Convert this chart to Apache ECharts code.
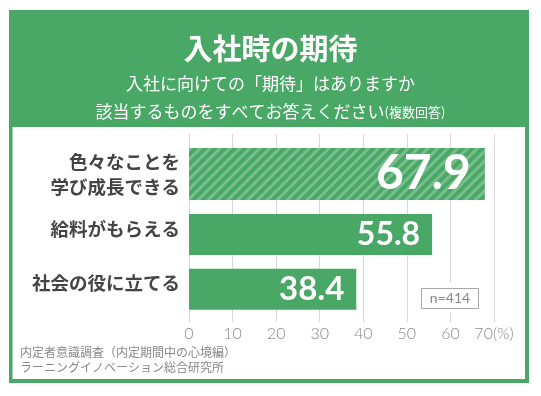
<!DOCTYPE html>
<html>
<head>
<meta charset="utf-8">
<script src="https://cdn.jsdelivr.net/npm/echarts@6/dist/echarts.min.js"></script>
<style>
html,body{margin:0;padding:0;background:#fff;}
#chart{width:541px;height:396px;}
</style>
</head>
<body>
<div id="chart"></div>
<script>
// ---- data ----
const categories = ['色々なことを\n学び成長できる', '給料がもらえる', '社会の役に立てる'];
const values = [67.9, 55.8, 38.4];
const xTickMax = 70;
const xTickStep = 10;
const titleText = '入社時の期待';
const subtitleLine1 = '入社に向けての「期待」はありますか';
const subtitleLine2 = '該当するものをすべてお答えください';
const subtitleNote = '(複数回答)';
const sampleNote = 'n=414';
const sourceLines = ['内定者意識調査（内定期間中の心境編）', 'ラーニングイノベーション総合研究所'];

// ---- styles ----
const GREEN = '#49a866';
const CJK = '"Noto Sans CJK JP", "Noto Sans", sans-serif';
const NUM = 'Lato, "Noto Sans", sans-serif';

const chart = echarts.init(document.getElementById('chart'), null, {renderer: 'canvas'});

const dataA = values.map((v, i) => i === 0 ? v : '-');
const dataB = values.map((v, i) => i === 0 ? '-' : {value: v, label: i === 2 ? {fontSize: 33} : {}});

const option = {
  backgroundColor: '#ffffff',
  animation: false,
  title: [
    {
      text: titleText, left: 'center', top: 27,
      textStyle: {color: '#fff', fontSize: 29, fontWeight: 'bold', fontFamily: CJK, lineHeight: 34}
    },
    {
      text: subtitleLine1 + '\n{m|' + subtitleLine2 + '}{s|' + subtitleNote + '}',
      left: 'center', top: 65,
      textStyle: {
        color: '#fff', fontSize: 17, fontFamily: CJK, lineHeight: 28, fontWeight: 'normal',
        rich: {
          m: {color: '#fff', fontSize: 17, fontFamily: CJK, lineHeight: 28},
          s: {color: '#fff', fontSize: 13, fontFamily: CJK, lineHeight: 28}
        }
      }
    }
  ],
  graphic: [
    {type: 'rect', z: -20, shape: {x: 9, y: 10, width: 520, height: 373}, style: {fill: GREEN}},
    {type: 'rect', z: -19, shape: {x: 12.5, y: 127, width: 512.5, height: 252}, style: {fill: '#fff'}},
    {type: 'rect', z: 50, shape: {x: 418, y: 282, width: 64, height: 31}, style: {fill: '#fff'}},
    {type: 'rect', z: 51, shape: {x: 421.5, y: 288.5, width: 57, height: 20}, style: {fill: '#fff', stroke: '#a8a8a8', lineWidth: 1}},
    {type: 'text', z: 52, x: 450, y: 298.5, style: {text: sampleNote, fill: '#888', fontSize: 14, fontFamily: NUM, align: 'center', verticalAlign: 'middle'}},
    {type: 'text', z: 52, x: 20, y: 352, style: {text: sourceLines[0], fill: '#888', fontSize: 12, fontFamily: CJK, align: 'left', verticalAlign: 'middle'}},
    {type: 'text', z: 52, x: 20, y: 367, style: {text: sourceLines[1], fill: '#888', fontSize: 12, fontFamily: CJK, align: 'left', verticalAlign: 'middle'}}
  ],
  grid: [
    {left: 189, right: 47, top: 134, bottom: 74},
    {left: 189, right: 47, top: 147, height: 163.6}
  ],
  xAxis: [
    {
      gridIndex: 0, type: 'value', min: 0, max: xTickMax, interval: xTickStep,
      axisLine: {show: false}, axisTick: {show: false},
      splitLine: {show: true, lineStyle: {color: '#d6d6d6', width: 1}},
      axisLabel: {
        color: '#8a8a8a', fontSize: 16, fontFamily: NUM, fontWeight: 300, margin: 4,
        formatter: v => v === xTickMax ? v + '(%)' : String(v)
      }
    },
    {gridIndex: 1, type: 'value', min: 0, max: xTickMax, show: false}
  ],
  yAxis: [
    {gridIndex: 0, type: 'value', show: false},
    {
      gridIndex: 1, type: 'category', inverse: true,
      data: categories.map((c, i) => ({value: c, textStyle: {padding: i === 0 ? [5, 0, 0, 0] : [12, 0, 0, 0]}})),
      axisLine: {show: false}, axisTick: {show: false},
      axisLabel: {
        color: '#444', fontSize: 18.5, fontWeight: 'bold', fontFamily: CJK,
        lineHeight: 24.5, margin: 9, align: 'right'
      }
    }
  ],
  series: [
    {
      type: 'bar', xAxisIndex: 1, yAxisIndex: 1, data: dataA,
      barWidth: 52, barGap: '-77.6%',
      itemStyle: {
        color: GREEN,
        decal: {
          symbol: 'rect', symbolSize: 1, color: 'rgba(255,255,255,0.25)',
          dashArrayX: [1, 0], dashArrayY: [2.5, 3.5], rotation: -Math.PI / 4
        }
      },
      label: {
        show: true, position: 'insideRight', distance: 14,
        color: '#fff', fontSize: 48, fontWeight: 'bold', fontFamily: NUM
      }
    },
    {
      type: 'bar', xAxisIndex: 1, yAxisIndex: 1, data: dataB,
      barWidth: 41, barGap: '-77.6%',
      itemStyle: {color: GREEN},
      label: {
        show: true, position: 'insideRight', distance: 12,
        color: '#fff', fontSize: 32, fontWeight: 'bold', fontFamily: NUM
      }
    }
  ]
};
chart.setOption(option);
</script>
</body>
</html>
